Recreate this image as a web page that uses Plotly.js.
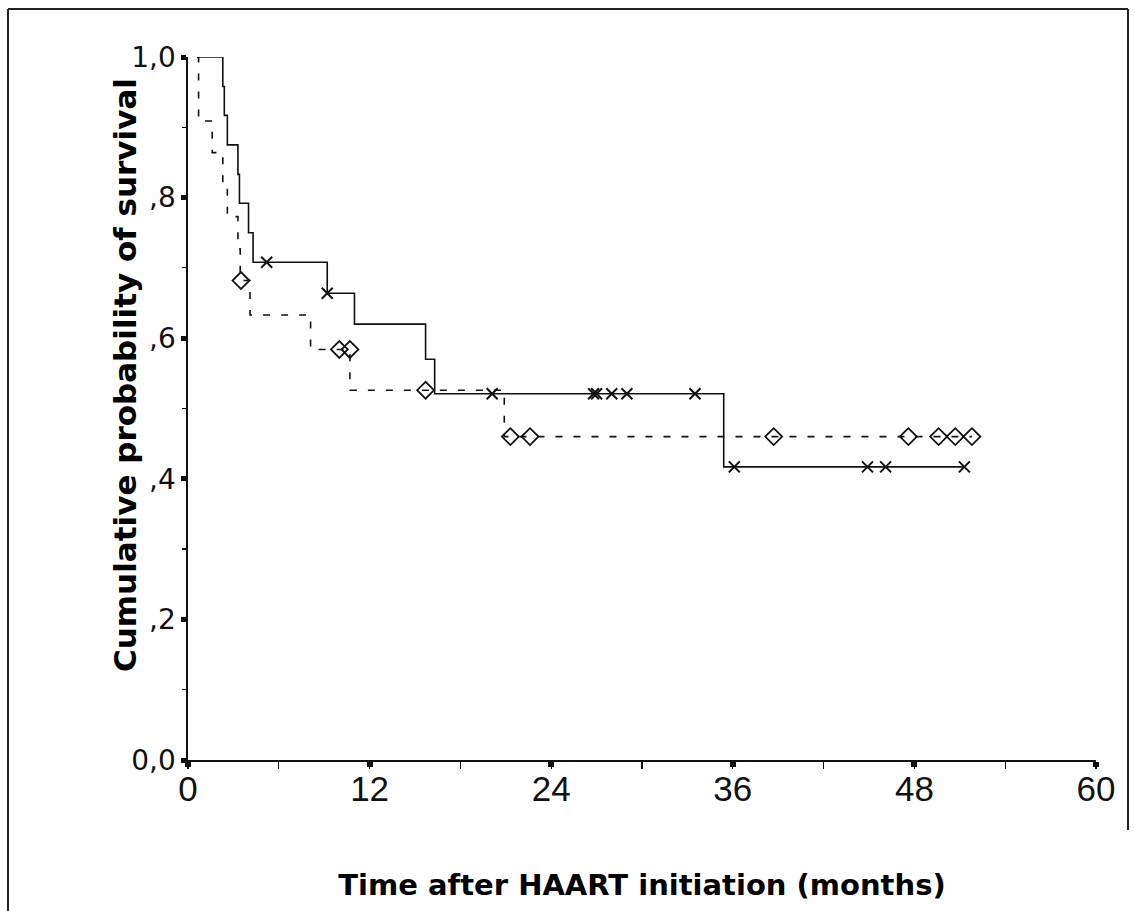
<!DOCTYPE html>
<html>
<head>
<meta charset="utf-8">
<script src="https://cdn.plot.ly/plotly-3.0.1.min.js"></script>
<style>
  html, body { margin: 0; padding: 0; background: #ffffff; }
  #chart { width: 1135px; height: 911px; }
</style>
</head>
<body>
<div id="chart"></div>
<script>
// ---- Data (Kaplan-Meier curves) ----
// Group drawn with a solid line (censored cases marked with x)
var solidStart = [0.6, 1.0];
var solidEventTimes = [2.3, 2.4, 2.6, 3.3, 3.4, 4.0, 4.3, 9.2, 11.0, 15.7, 16.3, 35.4];
var solidSurvival   = [0.958, 0.917, 0.875, 0.833, 0.792, 0.750, 0.708, 0.664, 0.620, 0.570, 0.521, 0.417];
var solidCensorTimes    = [5.2, 9.2, 20.1, 26.8, 27.0, 28.0, 29.0, 33.5, 36.1, 44.9, 46.1, 51.3];
var solidCensorSurvival = [0.708, 0.664, 0.521, 0.521, 0.521, 0.521, 0.521, 0.521, 0.417, 0.417, 0.417, 0.417];

// Group drawn with a dashed line (censored cases marked with diamonds)
var dashStart = [0.6, 1.0];
var dashEventTimes = [0.7, 1.6, 2.3, 2.6, 3.3, 3.45, 4.1, 8.1, 10.7, 20.9];
var dashSurvival   = [0.909, 0.864, 0.818, 0.773, 0.727, 0.682, 0.633, 0.584, 0.526, 0.460];
var dashCensorTimes    = [3.5, 10.0, 10.7, 15.7, 21.3, 22.6, 38.7, 47.6, 49.6, 50.7, 51.8];
var dashCensorSurvival = [0.682, 0.584, 0.584, 0.526, 0.460, 0.460, 0.460, 0.460, 0.460, 0.460, 0.460];

// Axis ticks
var xTickVals = [0, 12, 24, 36, 48, 60];
var xTickText = ["0", "12", "24", "36", "48", "60"];
var yTickVals = [0, 0.2, 0.4, 0.6, 0.8, 1.0];
var yTickText = ["0,0", ",2", ",4", ",6", ",8", "1,0"];

var xTitle = "Time after HAART initiation (months)";
var yTitle = "Cumulative probability of survival";

// Build step paths (start point, each event, then extend to last censor)
function stepPath(start, times, surv, lastT) {
  var xs = [start[0]].concat(times);
  var ys = [start[1]].concat(surv);
  xs.push(lastT);
  ys.push(surv[surv.length - 1]);
  return {x: xs, y: ys};
}
var sp = stepPath(solidStart, solidEventTimes, solidSurvival, solidCensorTimes[solidCensorTimes.length - 1]);
var dp = stepPath(dashStart, dashEventTimes, dashSurvival, dashCensorTimes[dashCensorTimes.length - 1]);

var traces = [
  {
    x: dp.x, y: dp.y, mode: 'lines', type: 'scatter',
    line: {shape: 'hv', color: '#111111', width: 1.6, dash: '7px,11px'},
    cliponaxis: false, hoverinfo: 'skip', showlegend: false
  },
  {
    x: sp.x, y: sp.y, mode: 'lines', type: 'scatter',
    line: {shape: 'hv', color: '#111111', width: 1.6},
    cliponaxis: false, hoverinfo: 'skip', showlegend: false
  },
  {
    x: dashCensorTimes, y: dashCensorSurvival, mode: 'markers', type: 'scatter',
    marker: {symbol: 'diamond-open', size: 13, color: '#111111', line: {width: 1.8, color: '#111111'}},
    cliponaxis: false, showlegend: false
  },
  {
    x: solidCensorTimes, y: solidCensorSurvival, mode: 'markers', type: 'scatter',
    marker: {symbol: 'x-thin-open', size: 11, color: '#111111', line: {width: 2, color: '#111111'}},
    cliponaxis: false, showlegend: false
  }
];

// Frame around the figure (paper coordinates derived from the plot area)
var L = 188, R = 1096, T = 57, B = 760;
function px(x) { return (x - L) / (R - L); }
function py(y) { return (B - y) / (B - T); }

var titleFont = {family: '"DejaVu Sans", Arial, sans-serif', size: 31, color: '#000000', weight: 'bold'};

var layout = {
  width: 1135, height: 911,
  margin: {l: L, r: 1135 - R, t: T, b: 911 - B, pad: 0},
  paper_bgcolor: '#ffffff', plot_bgcolor: '#ffffff',
  showlegend: false,
  xaxis: {
    range: [0, 60], fixedrange: true,
    showline: true, linecolor: '#111111', linewidth: 1.6,
    showgrid: false, zeroline: false,
    tickmode: 'array', tickvals: xTickVals, ticktext: xTickText,
    ticks: 'outside', ticklen: 5, tickwidth: 6, tickcolor: '#111111',
    ticklabelstandoff: -8,
    minor: {dtick: 6, tick0: 0, ticks: 'outside', ticklen: 7, tickwidth: 1.2, tickcolor: '#111111', showgrid: false},
    tickfont: {family: '"Liberation Sans", Arial, sans-serif', size: 35, color: '#111111'},
    title: {text: xTitle, standoff: 68,
            font: {family: '"DejaVu Sans", Arial, sans-serif', size: 29, color: '#000000', weight: 'bold'}}
  },
  yaxis: {
    range: [0, 1], fixedrange: true,
    showline: true, linecolor: '#111111', linewidth: 1.6,
    showgrid: false, zeroline: false,
    tickmode: 'array', tickvals: yTickVals, ticktext: yTickText,
    ticks: 'outside', ticklen: 5, tickwidth: 5, tickcolor: '#111111',
    minor: {dtick: 0.1, tick0: 0, ticks: 'outside', ticklen: 4, tickwidth: 1.2, tickcolor: '#111111', showgrid: false},
    tickfont: {family: '"DejaVu Sans", Arial, sans-serif', size: 28, color: '#111111'}
  },
  annotations: [
    {text: yTitle, xref: 'paper', yref: 'paper', x: px(125), y: py(375),
     xanchor: 'center', yanchor: 'middle', textangle: -90, showarrow: false, font: titleFont}
  ],
  shapes: [
    {type: 'line', xref: 'paper', yref: 'paper', x0: px(8), y0: py(9), x1: px(1128), y1: py(9), line: {color: '#222222', width: 2}},
    {type: 'line', xref: 'paper', yref: 'paper', x0: px(8), y0: py(9), x1: px(8), y1: py(911), line: {color: '#222222', width: 2}},
    {type: 'line', xref: 'paper', yref: 'paper', x0: px(1128), y0: py(9), x1: px(1128), y1: py(830), line: {color: '#222222', width: 2}}
  ]
};

Plotly.newPlot('chart', traces, layout, {staticPlot: true, displayModeBar: false});
</script>
</body>
</html>
